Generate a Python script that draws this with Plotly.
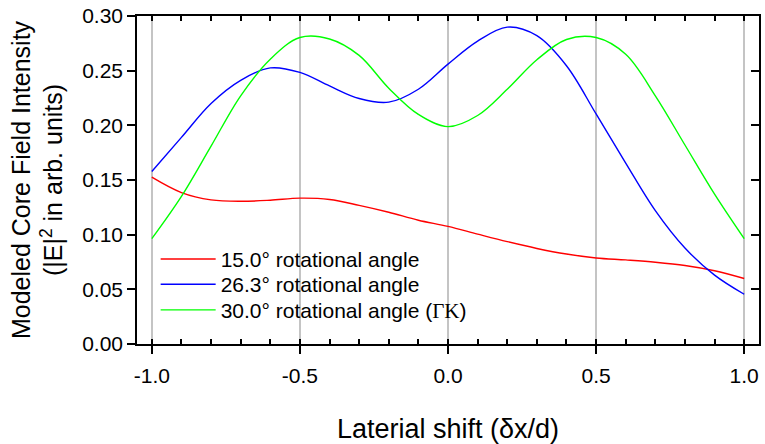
import plotly.graph_objects as go

# Lateral shift positions (in units of d)
shift = [-1.0, -0.9, -0.8, -0.7, -0.6, -0.5, -0.4, -0.3, -0.2, -0.1, 0.0,
         0.1, 0.2, 0.3, 0.4, 0.5, 0.6, 0.7, 0.8, 0.9, 1.0]

# Modeled core field intensity |E|^2 for three rotational angles
intensity_15_0 = [0.1526, 0.1385, 0.1318, 0.1305, 0.1315, 0.1334, 0.1322, 0.1268, 0.1205, 0.1132, 0.1076,
                  0.1005, 0.0936, 0.0874, 0.0823, 0.0787, 0.0769, 0.0748, 0.0718, 0.0670, 0.0599]
intensity_26_3 = [0.1578, 0.1890, 0.2200, 0.2412, 0.2525, 0.2484, 0.2360, 0.2245, 0.2212, 0.2330, 0.2560,
                  0.2770, 0.2898, 0.2820, 0.2545, 0.2104, 0.1655, 0.1220, 0.0878, 0.0630, 0.0455]
intensity_30_0 = [0.0963, 0.1350, 0.1810, 0.2270, 0.2605, 0.2803, 0.2790, 0.2640, 0.2340, 0.2100, 0.1988,
                  0.2090, 0.2330, 0.2600, 0.2785, 0.2803, 0.2650, 0.2270, 0.1820, 0.1370, 0.0963]

series_names = [
    "15.0° rotational angle",
    "26.3° rotational angle",
    "30.0° rotational angle (<span style='font-family:Liberation Serif'>ΓK</span>)",
]
series_colors = ["#ff0000", "#0000ff", "#00ff00"]

x_tickvals = [-1.0, -0.5, 0.0, 0.5, 1.0]
x_ticktext = ["-1.0", "-0.5", "0.0", "0.5", "1.0"]
y_tickvals = [0.00, 0.05, 0.10, 0.15, 0.20, 0.25, 0.30]
y_ticktext = ["0.00", "0.05", "0.10", "0.15", "0.20", "0.25", "0.30"]
x_minor_vals = [round(-1.0 + 0.1 * i, 1) for i in range(21)]

FONT = "Liberation Sans, Arial, sans-serif"
X_RANGE = [-1.05, 1.05]
Y_RANGE = [0.0, 0.30]

# one legend box per series so the rows can sit close together
legend_ids = ["legend", "legend2", "legend3"]
legend_rows_y = [0.258, 0.181, 0.103]

fig = go.Figure()
for ys, name, color, lg in zip([intensity_15_0, intensity_26_3, intensity_30_0],
                               series_names, series_colors, legend_ids):
    fig.add_trace(go.Scatter(
        x=shift, y=ys, mode="lines", name=name, legend=lg,
        line=dict(color=color, width=1.4, shape="spline", smoothing=1.0),
    ))

legend_style = dict(
    x=0.03, xanchor="left", yanchor="middle",
    bgcolor="rgba(0,0,0,0)", borderwidth=0,
    font=dict(size=21, family=FONT), itemwidth=55,
)

fig.update_layout(
    width=765, height=444,
    margin=dict(l=137, r=4, t=15, b=100),
    paper_bgcolor="white", plot_bgcolor="white",
    font=dict(family=FONT, color="black", size=21),
    showlegend=True,
    legend=dict(y=legend_rows_y[0], **legend_style),
    legend2=dict(y=legend_rows_y[1], **legend_style),
    legend3=dict(y=legend_rows_y[2], **legend_style),
    xaxis=dict(
        range=X_RANGE, tickvals=x_tickvals, ticktext=x_ticktext,
        ticks="outside", ticklen=8, tickwidth=1.5, tickcolor="black",
        showline=True, linecolor="black", linewidth=1.5, mirror=True,
        showgrid=True, gridcolor="#c4c4c4", gridwidth=1.5,
        zeroline=False,
        tickfont=dict(size=21), ticklabelstandoff=4,
        minor=dict(tickvals=x_minor_vals, ticks="inside", ticklen=5, tickwidth=1.5,
                   tickcolor="black", showgrid=False),
        title=dict(text="Laterial shift (δx/d)", font=dict(size=27), standoff=34),
    ),
    yaxis=dict(
        range=Y_RANGE, tickvals=y_tickvals, ticktext=y_ticktext,
        ticks="outside", ticklen=8, tickwidth=1.5, tickcolor="black",
        showline=True, linecolor="black", linewidth=1.5, mirror=True,
        showgrid=False, zeroline=False,
        tickfont=dict(size=21),
        title=dict(text="Modeled Core Field Intensity<br>(|E|<sup>2</sup> in arb. units)",
                   font=dict(size=25), standoff=12),
    ),
    xaxis2=dict(
        range=X_RANGE, overlaying="x", side="top", anchor="y",
        tickvals=x_minor_vals, ticks="inside", ticklen=5, tickwidth=1.5, tickcolor="black",
        showticklabels=False, showgrid=False, zeroline=False, showline=False,
    ),
    yaxis2=dict(
        range=Y_RANGE, overlaying="y", side="right", anchor="x",
        tickvals=y_tickvals, ticks="inside", ticklen=8, tickwidth=1.5, tickcolor="black",
        showticklabels=False, showgrid=False, zeroline=False, showline=False,
    ),
)

# invisible carriers so the mirrored tick axes are drawn
fig.add_trace(go.Scatter(x=[None], y=[None], xaxis="x2", yaxis="y", showlegend=False, hoverinfo="skip"))
fig.add_trace(go.Scatter(x=[None], y=[None], xaxis="x", yaxis="y2", showlegend=False, hoverinfo="skip"))

fig.write_html("out.html")
